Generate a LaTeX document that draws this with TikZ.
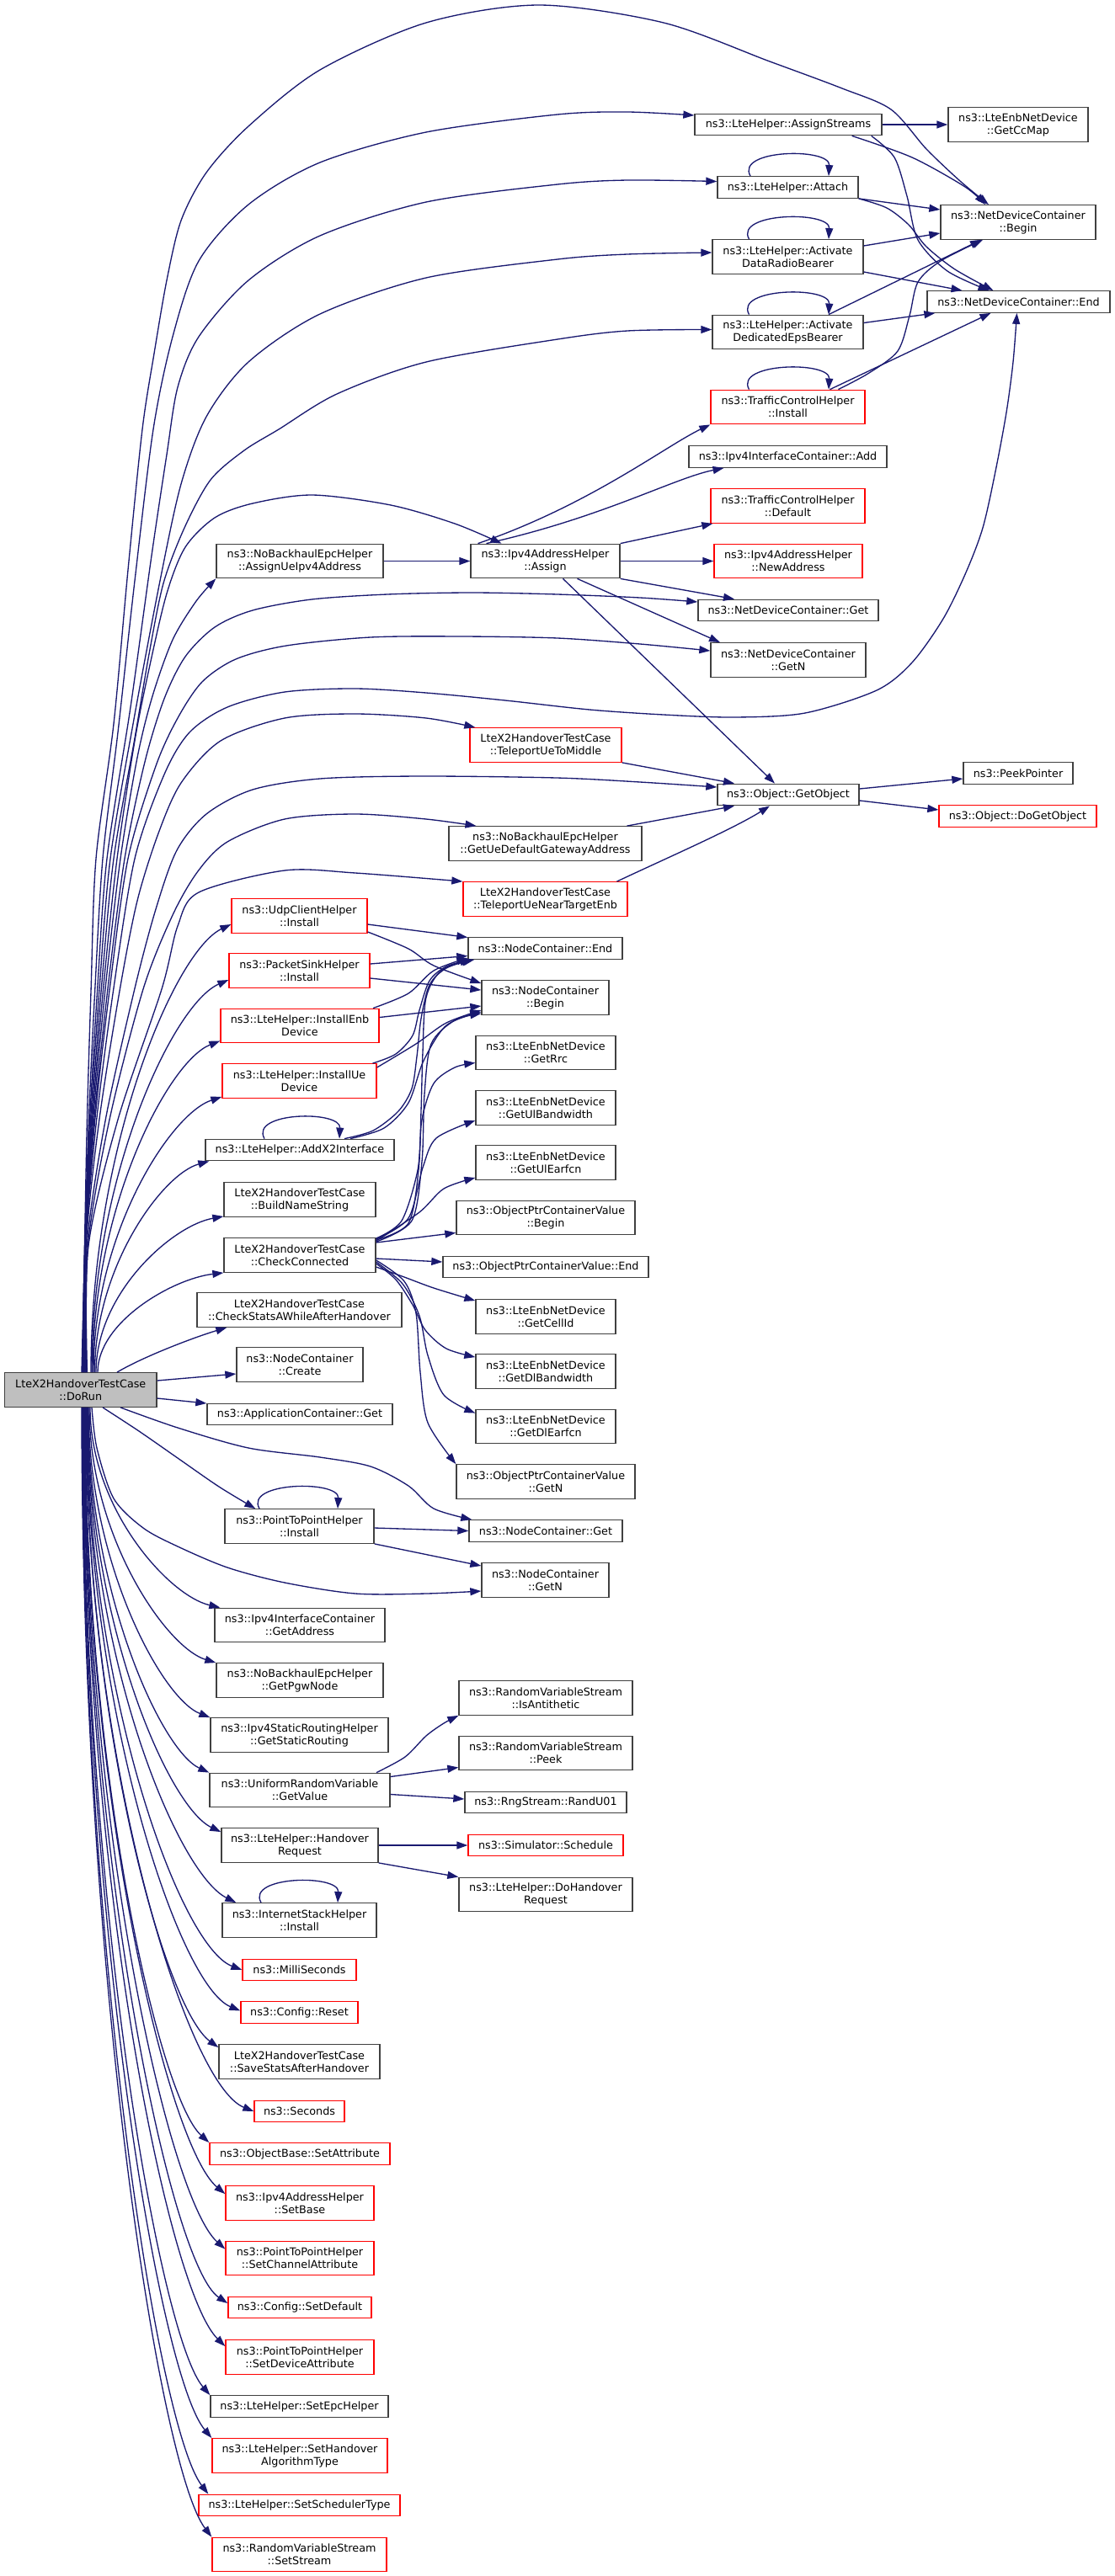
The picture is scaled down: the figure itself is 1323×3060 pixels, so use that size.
\documentclass[tikz,border=0pt]{standalone}
\usepackage{fontspec}
\setmainfont{DejaVu Sans}
\usepackage{xcolor}
\usetikzlibrary{arrows.meta}
\definecolor{edgeblue}{HTML}{191970}
\definecolor{boxgray}{HTML}{404040}
\definecolor{boxred}{HTML}{FF0000}
\definecolor{rootfill}{HTML}{BFBFBF}

\begin{document}
\begin{tikzpicture}[x=1pt, y=-1pt,
    fn/.style={draw=boxgray, line width=1.33pt, inner sep=0pt, align=center, font=\fontsize{12.75}{15}\selectfont},
    fnred/.style={fn, draw=boxred},
    fnroot/.style={fn, fill=rootfill},
    one/.style={minimum height=25.5pt},
    two/.style={minimum height=40.5pt},
    call/.style={draw=edgeblue, line width=1.33pt, -{Triangle[length=13pt,width=9pt]}}]
    \useasboundingbox (0,0) rectangle (1323,3060);

    \node[fnroot, two, minimum width=180.5pt] (root) at (95.75,1651) {LteX2HandoverTestCase\\::DoRun};

    \node[fn, two, minimum width=166pt] (ccmap) at (1209,148) {ns3::LteEnbNetDevice\\::GetCcMap};
    \node[fn, one, minimum width=222pt] (asgstr) at (936,148) {ns3::LteHelper::AssignStreams};
    \node[fn, one, minimum width=167pt] (attach) at (935.5,222.5) {ns3::LteHelper::Attach};
    \node[fn, two, minimum width=184pt] (ndcbeg) at (1209,264) {ns3::NetDeviceContainer\\::Begin};
    \node[fn, two, minimum width=179pt] (actdrb) at (935.5,305) {ns3::LteHelper::Activate\\DataRadioBearer};
    \node[fn, one, minimum width=217pt] (ndcend) at (1209.5,358.5) {ns3::NetDeviceContainer::End};
    \node[fn, two, minimum width=179pt] (acteps) at (935.5,394.5) {ns3::LteHelper::Activate\\DedicatedEpsBearer};
    \node[fnred, two, minimum width=183pt] (tchinst) at (935.5,483.5) {ns3::TrafficControlHelper\\::Install};
    \node[fn, one, minimum width=235pt] (addif) at (935.5,542.5) {ns3::Ipv4InterfaceContainer::Add};
    \node[fnred, two, minimum width=183pt] (tchdef) at (935.5,601) {ns3::TrafficControlHelper\\::Default};
    \node[fn, two, minimum width=177pt] (v4asg) at (647.5,666.5) {ns3::Ipv4AddressHelper\\::Assign};
    \node[fn, two, minimum width=198pt] (ueasg) at (356,666.5) {ns3::NoBackhaulEpcHelper\\::AssignUeIpv4Address};
    \node[fnred, two, minimum width=176pt] (newaddr) at (936,666.5) {ns3::Ipv4AddressHelper\\::NewAddress};
    \node[fn, one, minimum width=214pt] (ndcget) at (936,725) {ns3::NetDeviceContainer::Get};
    \node[fn, two, minimum width=184pt] (ndcgetn) at (936,784) {ns3::NetDeviceContainer\\::GetN};
    \node[fnred, two, minimum width=180pt] (telemid) at (648,885) {LteX2HandoverTestCase\\::TeleportUeToMiddle};
    \node[fn, one, minimum width=168pt] (getobj) at (936,944) {ns3::Object::GetObject};
    \node[fn, one, minimum width=130pt] (peek) at (1209,918.5) {ns3::PeekPointer};
    \node[fnred, one, minimum width=187pt] (dogetobj) at (1208.5,969.5) {ns3::Object::DoGetObject};
    \node[fn, two, minimum width=229pt] (gwaddr) at (647.5,1002) {ns3::NoBackhaulEpcHelper\\::GetUeDefaultGatewayAddress};
    \node[fnred, two, minimum width=195pt] (telenear) at (647.5,1068) {LteX2HandoverTestCase\\::TeleportUeNearTargetEnb};
    \node[fnred, two, minimum width=161pt] (udpinst) at (355.5,1088) {ns3::UdpClientHelper\\::Install};
    \node[fn, one, minimum width=183pt] (ncend) at (647.5,1126.5) {ns3::NodeContainer::End};
    \node[fnred, two, minimum width=167pt] (sinkinst) at (355.5,1153) {ns3::PacketSinkHelper\\::Install};
    \node[fn, two, minimum width=151pt] (ncbeg) at (647.5,1185) {ns3::NodeContainer\\::Begin};
    \node[fnred, two, minimum width=188pt] (enbdev) at (356,1218.5) {ns3::LteHelper::InstallEnb\\Device};
    \node[fn, two, minimum width=166pt] (getrrc) at (648,1250.5) {ns3::LteEnbNetDevice\\::GetRrc};
    \node[fnred, two, minimum width=183pt] (uedev) at (355.5,1284) {ns3::LteHelper::InstallUe\\Device};
    \node[fn, two, minimum width=166pt] (getulbw) at (648,1316) {ns3::LteEnbNetDevice\\::GetUlBandwidth};
    \node[fn, one, minimum width=224pt] (addx2) at (356,1366) {ns3::LteHelper::AddX2Interface};
    \node[fn, two, minimum width=166pt] (getulearfcn) at (648,1381) {ns3::LteEnbNetDevice\\::GetUlEarfcn};
    \node[fn, two, minimum width=180pt] (buildname) at (356,1425) {LteX2HandoverTestCase\\::BuildNameString};
    \node[fn, two, minimum width=212pt] (opcvbeg) at (648,1446.5) {ns3::ObjectPtrContainerValue\\::Begin};
    \node[fn, two, minimum width=180pt] (checkconn) at (356,1491) {LteX2HandoverTestCase\\::CheckConnected};
    \node[fn, one, minimum width=244pt] (opcvend) at (648,1505) {ns3::ObjectPtrContainerValue::End};
    \node[fn, two, minimum width=243pt] (checkstats) at (355.5,1556) {LteX2HandoverTestCase\\::CheckStatsAWhileAfterHandover};
    \node[fn, two, minimum width=166pt] (getcellid) at (648,1564) {ns3::LteEnbNetDevice\\::GetCellId};
    \node[fn, two, minimum width=150pt] (nccreate) at (356,1621) {ns3::NodeContainer\\::Create};
    \node[fn, two, minimum width=166pt] (getdlbw) at (648,1629) {ns3::LteEnbNetDevice\\::GetDlBandwidth};
    \node[fn, one, minimum width=220pt] (acget) at (356,1680) {ns3::ApplicationContainer::Get};
    \node[fn, two, minimum width=166pt] (getdlearfcn) at (648,1694.5) {ns3::LteEnbNetDevice\\::GetDlEarfcn};
    \node[fn, two, minimum width=212pt] (opcvgetn) at (648,1760) {ns3::ObjectPtrContainerValue\\::GetN};
    \node[fn, two, minimum width=177pt] (p2pinst) at (355.5,1813) {ns3::PointToPointHelper\\::Install};
    \node[fn, one, minimum width=182pt] (ncget) at (648,1818.5) {ns3::NodeContainer::Get};
    \node[fn, two, minimum width=151pt] (ncgetn) at (647.5,1877) {ns3::NodeContainer\\::GetN};
    \node[fn, two, minimum width=202pt] (getaddr) at (356,1930.5) {ns3::Ipv4InterfaceContainer\\::GetAddress};
    \node[fn, two, minimum width=198pt] (pgwnode) at (356,1996) {ns3::NoBackhaulEpcHelper\\::GetPgwNode};
    \node[fn, two, minimum width=206pt] (antith) at (648,2017) {ns3::RandomVariableStream\\::IsAntithetic};
    \node[fn, two, minimum width=211pt] (staticrt) at (355.5,2061) {ns3::Ipv4StaticRoutingHelper\\::GetStaticRouting};
    \node[fn, two, minimum width=206pt] (peekrv) at (648,2082.5) {ns3::RandomVariableStream\\::Peek};
    \node[fn, two, minimum width=214pt] (getvalue) at (356,2126.5) {ns3::UniformRandomVariable\\::GetValue};
    \node[fn, one, minimum width=192pt] (randu) at (648,2141) {ns3::RngStream::RandU01};
    \node[fn, two, minimum width=186pt] (horeq) at (356,2192) {ns3::LteHelper::Handover\\Request};
    \node[fnred, one, minimum width=184pt] (schedule) at (648,2192) {ns3::Simulator::Schedule};
    \node[fn, two, minimum width=206pt] (dohoreq) at (648,2250.5) {ns3::LteHelper::DoHandover\\Request};
    \node[fn, two, minimum width=183pt] (inetinst) at (355.5,2281) {ns3::InternetStackHelper\\::Install};
    \node[fnred, one, minimum width=135pt] (millis) at (355.5,2340) {ns3::MilliSeconds};
    \node[fnred, one, minimum width=139pt] (cfgreset) at (355.5,2390.5) {ns3::Config::Reset};
    \node[fn, two, minimum width=191pt] (savestats) at (355.5,2449) {LteX2HandoverTestCase\\::SaveStatsAfterHandover};
    \node[fnred, one, minimum width=107pt] (seconds) at (355.5,2508) {ns3::Seconds};
    \node[fnred, one, minimum width=214pt] (setattr) at (356,2558.5) {ns3::ObjectBase::SetAttribute};
    \node[fnred, two, minimum width=176pt] (setbase) at (356,2617) {ns3::Ipv4AddressHelper\\::SetBase};
    \node[fnred, two, minimum width=176pt] (setchan) at (356,2682.5) {ns3::PointToPointHelper\\::SetChannelAttribute};
    \node[fnred, one, minimum width=170pt] (setdef) at (356,2741) {ns3::Config::SetDefault};
    \node[fnred, two, minimum width=176pt] (setdev) at (356,2800) {ns3::PointToPointHelper\\::SetDeviceAttribute};
    \node[fn, one, minimum width=211pt] (setepc) at (355.5,2858.5) {ns3::LteHelper::SetEpcHelper};
    \node[fnred, two, minimum width=208pt] (setho) at (356,2917) {ns3::LteHelper::SetHandover\\AlgorithmType};
    \node[fnred, one, minimum width=239pt] (setsched) at (355.5,2976) {ns3::LteHelper::SetSchedulerType};
    \node[fnred, two, minimum width=207pt] (setstream) at (355.5,3034.5) {ns3::RandomVariableStream\\::SetStream};

    % calls going up from DoRun
    \draw[call] plot[smooth] coordinates {([xshift=1.25pt]root.north) (100.4,1480) (103.4,1330) (108.1,1175) (114,1020) (135,860) (152,677) (169,510) (183,420) (198,333) (215,262) (245,205) (295,150) (380,83) (506,27) (640,6) (788,27) (914,73) (1000,105) (1058,130) (1100,177) (1140,215) ([xshift=-35pt]ndcbeg.north)};
    \draw[call] plot[smooth] coordinates {([xshift=1.75pt]root.north) (100.7,1480) (105.4,1330) (112.8,1175) (122,1020) (140,870) (160,690) (182,510) (205,400) (236,310) (295,243) (380,193) (506,157) (662,136) (745,133) ([yshift=11pt]asgstr.west)};
    \draw[call] plot[smooth] coordinates {([xshift=2.25pt]root.north) (100.8,1480) (106.6,1330) (115.7,1175) (127,1020) (155,840) (180,660) (198,540) (211,460) (236,400) (295,333) (380,280) (506,240) (662,219) (745,214) ([yshift=7pt]attach.west)};
    \draw[call] plot[smooth] coordinates {([xshift=2.75pt]root.north) (101,1480) (107.6,1330) (118,1175) (131,1020) (158,860) (190,690) (215,575) (245,495) (295,430) (380,373) (506,330) (662,308) (745,302) ([yshift=5pt]actdrb.west)};
    \draw[call] plot[smooth] coordinates {([xshift=3.25pt]root.north) (101.1,1480) (108.6,1330) (120.3,1175) (135,1020) (160,877) (177,777) (194,693) (219,627) (250,570) (290,535) (331,510) (400,468) (506,430) (662,403) (745,393) ([yshift=3pt]acteps.west)};
    \draw[call] plot[smooth] coordinates {([xshift=3.75pt]root.north) (101.2,1480) (109.6,1330) (122.6,1175) (139,1020) (160,880) (178,790) (198,705) (220,650) (255,615) (300,598) (371,588) (464,600) (540,622) ([xshift=-52pt]v4asg.north)};
    \draw[call] plot[smooth] coordinates {([xshift=4.25pt]root.north) (101.3,1480) (110.6,1330) (125,1175) (143,1020) (163,900) (181,827) (205,760) (233,714) (ueasg.south west)};
    \draw[call] plot[smooth] coordinates {([xshift=4.75pt]root.north) (101.5,1480) (111.8,1330) (127.9,1175) (148,1020) (172,905) (195,830) (220,780) (255,745) (300,725) (370,712) (460,706) (560,704) (662,706) (760,710) ([yshift=10pt]ndcget.west)};
    \draw[call] plot[smooth] coordinates {([xshift=5.25pt]root.north) (101.6,1480) (112.8,1330) (130.2,1175) (152,1020) (185,910) (211,853) (240,810) (280,783) (340,767) (440,757) (549,756) (662,758) (760,765) ([yshift=11pt]ndcgetn.west)};
    \draw[call] plot[smooth] coordinates {([xshift=5.75pt]root.north) (101.8,1480) (114.7,1330) (134.8,1175) (160,1020) (195,920) (225,870) (270,840) (338,822) (422,818) (506,823) (600,832) (700,843) (788,849) (872,852) (956,847) (1041,820) (1083,787) (1120,735) (1147,680) (1167,627) (1182,560) (1195,490) (1203,430) ([xshift=-2pt]ndcend.south)};
    \draw[call] plot[smooth] coordinates {([xshift=6.25pt]root.north) (102.2,1480) (117.9,1330) (142.4,1175) (163,1070) (188,990) (215,930) (262,880) (338,853) (422,848) (506,853) ([xshift=7pt]telemid.north west)};
    \draw[call] plot[smooth] coordinates {([xshift=6.75pt]root.north) (103.2,1480) (125.3,1330) (159.8,1175) (185,1080) (210,1010) (245,967) (300,938) (380,925) (500,922) (661,924) (760,929) ([yshift=9pt]getobj.west)};
    \draw[call] plot[smooth] coordinates {([xshift=7.25pt]root.north) (104.4,1480) (130,1330) (170,1175) (205,1087) (235,1035) (270,1000) (338,973) (422,967) (506,973) ([xshift=-82pt]gwaddr.north)};
    \draw[call] plot[smooth] coordinates {([xshift=7.75pt]root.north) (105,1480) (140,1330) (192,1175) (211,1100) (236,1060) (338,1034) (422,1037) (telenear.north west)};
    \draw[call] ([xshift=12.25pt]root.north) .. controls +(0,-267) and +(-67,32) .. ([yshift=-10pt]udpinst.west);
    \draw[call] ([xshift=13.25pt]root.north) .. controls +(0,-234) and +(-65,28) .. ([yshift=-11pt]sinkinst.west);
    \draw[call] ([xshift=14.25pt]root.north) .. controls +(0,-198) and +(-61,24) .. ([yshift=3pt]enbdev.south west);
    \draw[call] ([xshift=15.25pt]root.north) .. controls +(0,-165) and +(-61,20) .. ([yshift=2pt]uedev.south west);
    \draw[call] ([xshift=16.75pt]root.north) .. controls +(0,-126) and +(-55,15) .. ([xshift=5pt]addx2.south west);
    \draw[call] ([xshift=18.25pt]root.north) .. controls +(0,-94) and +(-61,11) .. ([yshift=1pt]buildname.south west);
    \draw[call] ([xshift=20.25pt]root.north) .. controls +(0,-60) and +(-60,7) .. (checkconn.south west);
    \draw[call] ([xshift=43.25pt]root.north) .. controls +(30,-18) and +(-40,12) .. ([xshift=36pt]checkstats.south west);
    \draw[call] ([yshift=11pt]root.east) -- ([yshift=-11pt]nccreate.west);
    \draw[call] ([yshift=-10pt]root.east) -- ([yshift=13pt]acget.west);

    % calls going down from DoRun
    \draw[call] plot[smooth] coordinates {([xshift=47.25pt]root.south) (211,1696) (295,1720) (380,1731) (440,1742) (485,1765) (515,1792) ([xshift=4pt]ncget.north west)};
    \draw[call] plot[smooth] coordinates {([xshift=26.25pt]root.south) (165,1700) (211,1732) (260,1766) ([xshift=37pt]p2pinst.north west)};
    \draw[call] plot[smooth] coordinates {([xshift=13.25pt]root.south) (115,1720) (135,1780) (170,1815) (211,1837) (270,1862) (338,1880) (422,1893) (506,1893) ([yshift=-13pt]ncgetn.west)};
    \draw[call] ([xshift=11.25pt]root.south) .. controls +(0,120) and +(-61,-14) .. ([xshift=7pt]getaddr.north west);
    \draw[call] ([xshift=10.25pt]root.south) .. controls +(0,153) and +(-59,-18) .. (pgwnode.north west);
    \draw[call] ([xshift=9.25pt]root.south) .. controls +(0,185) and +(-57,-22) .. (staticrt.north west);
    \draw[call] ([xshift=8.75pt]root.south) .. controls +(0,218) and +(-57,-26) .. (getvalue.north west);
    \draw[call] ([xshift=8.25pt]root.south) .. controls +(0,253) and +(-63,-30) .. ([yshift=-5pt]horeq.north west);
    \draw[call] ([xshift=7.75pt]root.south) .. controls +(0,295) and +(-70,-35) .. ([xshift=17pt]inetinst.north west);
    \draw[call] ([xshift=7.25pt]root.south) .. controls +(0,335) and +(-74,-28) .. (millis.west);
    \draw[call] ([xshift=6.75pt]root.south) .. controls +(0,358) and +(-73,-30) .. ([yshift=2pt]cfgreset.west);
    \draw[call] ([xshift=6.25pt]root.south) .. controls +(0,381) and +(-63,-46) .. ([yshift=-4pt]savestats.north west);
    \draw[call] ([xshift=5.75pt]root.south) .. controls +(0,418) and +(-80,-32) .. (seconds.west);
    \draw[call] ([xshift=5.25pt]root.south) .. controls +(0,438) and +(-59,-53) .. (setattr.north west);
    \draw[call] ([xshift=4.75pt]root.south) .. controls +(0,468) and +(-67,-56) .. ([yshift=-10pt]setbase.north west);
    \draw[call] ([xshift=4.25pt]root.south) .. controls +(0,500) and +(-67,-60) .. ([yshift=-10pt]setchan.north west);
    \draw[call] ([xshift=3.75pt]root.south) .. controls +(0,533) and +(-68,-45) .. ([yshift=5pt]setdef.west);
    \draw[call] ([xshift=3.25pt]root.south) .. controls +(0,559) and +(-68,-67) .. ([yshift=-8pt]setdev.north west);
    \draw[call] ([xshift=2.75pt]root.south) .. controls +(0,588) and +(-60,-70) .. (setepc.north west);
    \draw[call] ([xshift=2.25pt]root.south) .. controls +(0,613) and +(-62,-74) .. (setho.north west);
    \draw[call] ([xshift=1.75pt]root.south) .. controls +(0,646) and +(-60,-78) .. ([xshift=12pt]setsched.north west);
    \draw[call] ([xshift=1.25pt]root.south) .. controls +(0,672) and +(-62,-81) .. (setstream.north west);

    % LteHelper calls into NetDeviceContainer
    \draw[call] (asgstr.east) -- (ccmap.west);
    \draw[call] plot[smooth] coordinates {([xshift=-36pt]asgstr.south east) (1083,187) (1146,222) ([xshift=-39pt]ndcbeg.north)};
    \draw[call] plot[smooth] coordinates {([xshift=-13pt]asgstr.south east) (1062,187) (1077,233) (1090,285) (1125,322) ([xshift=-35pt]ndcend.north)};
    \draw[call] (attach.south east) -- ([yshift=15pt]ndcbeg.west);
    \draw[call] plot[smooth] coordinates {(attach.south east) (1053,247) (1079,267) (1100,293) (1134,320) ([xshift=-30pt]ndcend.north)};
    \draw[call] ([yshift=13pt]actdrb.east) -- ([yshift=-13pt]ndcbeg.west);
    \draw[call] ([yshift=-18pt]actdrb.east) -- ([xshift=-67pt]ndcend.north);
    \draw[call] ([xshift=48.5pt]acteps.north) -- ([xshift=-44pt]ndcbeg.south);
    \draw[call] ([yshift=11pt]acteps.east) -- ([xshift=10pt]ndcend.south west);
    \draw[call] plot[smooth] coordinates {([xshift=60pt]tchinst.north) (1032,443) (1066,417) (1080,375) (1090,335) (1117,310) ([xshift=-42pt]ndcbeg.south)};
    \draw[call] ([xshift=50pt]tchinst.north) -- ([xshift=-33pt]ndcend.south);
    \draw[call] ([xshift=-44.5pt]attach.north) .. controls +(-18,-32) and +(2,-34) .. ([xshift=48.5pt]attach.north);
    \draw[call] ([xshift=-46pt]actdrb.north) .. controls +(-18,-32) and +(2,-34) .. ([xshift=48.5pt]actdrb.north);
    \draw[call] ([xshift=-46pt]acteps.north) .. controls +(-18,-32) and +(2,-34) .. ([xshift=48.5pt]acteps.north);
    \draw[call] ([xshift=-46pt]tchinst.north) .. controls +(-18,-32) and +(2,-34) .. ([xshift=48.5pt]tchinst.north);

    % Ipv4AddressHelper::Assign and GetObject
    \draw[call] (ueasg.east) -- (v4asg.west);
    \draw[call] ([xshift=-80pt]v4asg.north) .. controls (700,600) and (790,530) .. (tchinst.south west);
    \draw[call] ([xshift=-70pt]v4asg.north) .. controls (715,615) and (800,568) .. ([xshift=-76pt]addif.south);
    \draw[call] (v4asg.north east) -- ([xshift=3pt]tchdef.south west);
    \draw[call] (v4asg.east) -- (newaddr.west);
    \draw[call] (v4asg.south east) -- ([xshift=-64pt]ndcget.north);
    \draw[call] ([xshift=38pt]v4asg.south) -- ([xshift=-81pt]ndcgetn.north);
    \draw[call] ([xshift=21pt]v4asg.south) -- ([xshift=-16pt]getobj.north);
    \draw[call] (telemid.south east) -- ([xshift=-64pt]getobj.north);
    \draw[call] ([yshift=7pt]getobj.east) -- ([yshift=-6.5pt]peek.west);
    \draw[call] ([yshift=-7pt]getobj.east) -- ([yshift=7.5pt]dogetobj.west);
    \draw[call] ([xshift=97pt]gwaddr.north) -- ([xshift=-64pt]getobj.south);
    \draw[call] ([xshift=85pt]telenear.north) .. controls (790,1020) and (870,985) .. ([xshift=-22pt]getobj.south);

    % NodeContainer users
    \draw[call] ([yshift=-10pt]udpinst.east) -- ([yshift=13pt]ncend.west);
    \draw[call] plot[smooth] coordinates {([yshift=-19pt]udpinst.east) (485,1127) (515,1147) ([yshift=17pt]ncbeg.west)};
    \draw[call] ([yshift=8pt]sinkinst.east) -- ([yshift=-9pt]ncend.west);
    \draw[call] ([yshift=-9pt]sinkinst.east) -- ([yshift=9pt]ncbeg.west);
    \draw[call] plot[smooth] coordinates {([xshift=87pt]enbdev.north) (485,1180) (515,1153) ([yshift=2pt]ncend.south west)};
    \draw[call] ([yshift=10pt]enbdev.east) -- ([yshift=-10pt]ncbeg.west);
    \draw[call] plot[smooth] coordinates {([xshift=87pt]uedev.north) (470,1252) (490,1230) (498,1200) (510,1165) (530,1148) ([xshift=4pt]ncend.south west)};
    \draw[call] plot[smooth] coordinates {([yshift=16pt]uedev.east) (494,1240) (530,1215) ([yshift=-15pt]ncbeg.west)};
    \draw[call] plot[smooth] coordinates {([xshift=53pt]addx2.north) (443,1343) (473,1320) (489,1293) (495,1255) (500,1210) (510,1170) (530,1150) ([xshift=6pt]ncend.south west)};
    \draw[call] plot[smooth] coordinates {([xshift=60pt]addx2.north) (456,1340) (485,1310) (503,1260) (530,1218) ([yshift=-17pt]ncbeg.west)};
    \draw[call] ([xshift=-42pt]addx2.north) .. controls +(-18,-32) and +(2,-34) .. ([xshift=47pt]addx2.north);

    % CheckConnected
    \draw[call] plot[smooth] coordinates {([yshift=18pt]checkconn.east) (485,1453) (497,1390) (500,1320) (502,1250) (506,1185) (525,1152) ([xshift=8pt]ncend.south west)};
    \draw[call] plot[smooth] coordinates {([yshift=16pt]checkconn.east) (489,1450) (501,1380) (504,1300) (512,1240) (540,1212) ([yshift=-19pt]ncbeg.west)};
    \draw[call] plot[smooth] coordinates {([yshift=20pt]checkconn.east) (477,1450) (496,1390) (501,1330) (515,1287) (540,1268) ([yshift=-12pt]getrrc.west)};
    \draw[call] plot[smooth] coordinates {([yshift=19pt]checkconn.east) (485,1447) (502,1387) (518,1352) ([yshift=-15pt]getulbw.west)};
    \draw[call] plot[smooth] coordinates {([yshift=17pt]checkconn.east) (498,1440) (527,1412) ([yshift=-18pt]getulearfcn.west)};
    \draw[call] ([yshift=15pt]checkconn.east) -- ([yshift=3pt]opcvbeg.south west);
    \draw[call] ([yshift=-4pt]checkconn.east) -- ([yshift=6pt]opcvend.west);
    \draw[call] plot[smooth] coordinates {([yshift=-14pt]checkconn.east) (480,1517) (515,1530) ([yshift=-2pt]getcellid.north west)};
    \draw[call] plot[smooth] coordinates {([yshift=-10pt]checkconn.east) (470,1520) (490,1550) (505,1580) (530,1602) ([yshift=-4pt]getdlbw.north west)};
    \draw[call] plot[smooth] coordinates {([yshift=-8pt]checkconn.east) (478,1525) (498,1563) (508,1610) (527,1657) ([yshift=-5pt]getdlearfcn.north west)};
    \draw[call] plot[smooth] coordinates {([yshift=-6pt]checkconn.east) (480,1522) (494,1560) (499,1630) (508,1690) (opcvgetn.north west)};

    % lower helpers
    \draw[call] ([yshift=-2pt]p2pinst.east) -- (ncget.west);
    \draw[call] (p2pinst.south east) -- ([yshift=17pt]ncgetn.west);
    \draw[call] ([xshift=-47.5pt]p2pinst.north) .. controls +(-18,-32) and +(2,-34) .. ([xshift=45.5pt]p2pinst.north);
    \draw[call] plot[smooth] coordinates {([xshift=91pt]getvalue.north) (481,2087) (506,2062) (527,2047) (antith.south west)};
    \draw[call] ([yshift=16pt]getvalue.east) -- ([yshift=-17pt]peekrv.west);
    \draw[call] ([yshift=-5pt]getvalue.east) -- ([yshift=4pt]randu.west);
    \draw[call] (horeq.east) -- (schedule.west);
    \draw[call] (horeq.south east) -- (dohoreq.north west);
    \draw[call] ([xshift=-45.5pt]inetinst.north) .. controls +(-18,-32) and +(2,-34) .. ([xshift=45.5pt]inetinst.north);
\end{tikzpicture}
\end{document}
